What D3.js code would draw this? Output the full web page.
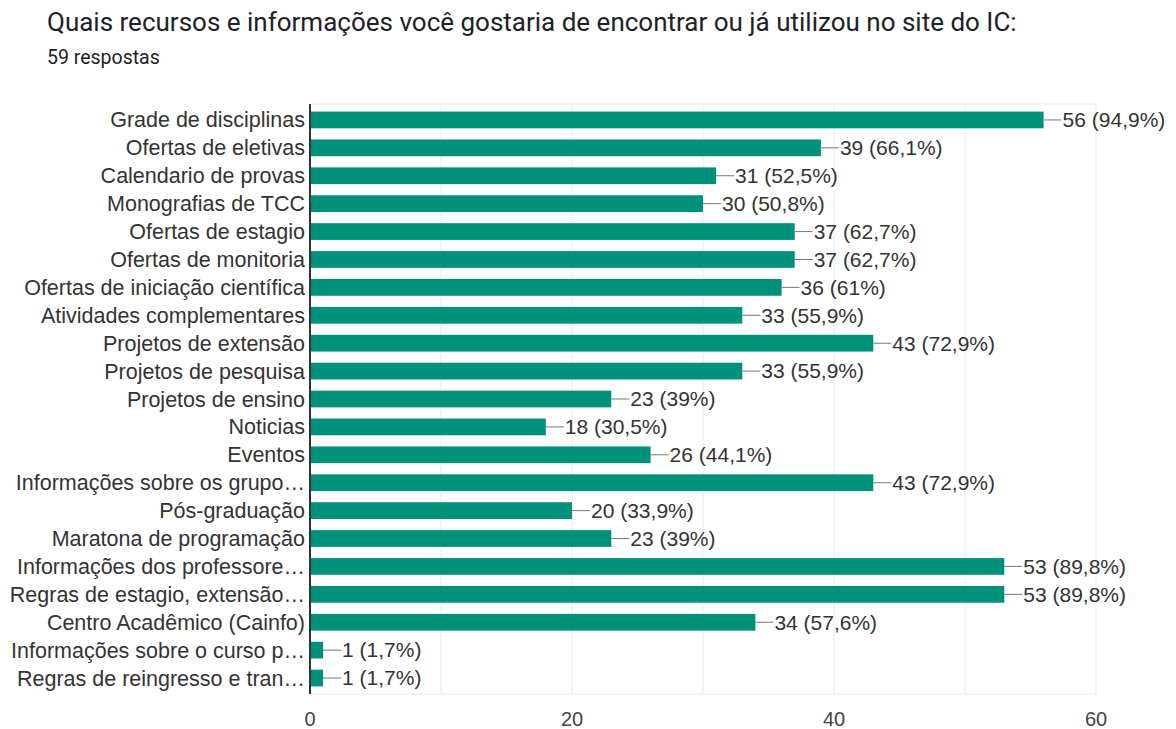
<!DOCTYPE html>
<html>
<head>
<meta charset="utf-8">
<script src="https://cdn.jsdelivr.net/npm/d3@7"></script>
<style>
  body { margin: 0; background: #fff; }
  svg { display: block; }
</style>
</head>
<body>
<svg id="chart" width="1176" height="729"></svg>
<script>
"use strict";

// data
const categories = [
    "Grade de disciplinas", "Ofertas de eletivas", "Calendario de provas", "Monografias de TCC",
    "Ofertas de estagio", "Ofertas de monitoria", "Ofertas de iniciação científica", "Atividades complementares",
    "Projetos de extensão", "Projetos de pesquisa", "Projetos de ensino", "Noticias", "Eventos",
    "Informações sobre os grupo…", "Pós-graduação", "Maratona de programação",
    "Informações dos professore…", "Regras de estagio, extensão…", "Centro Acadêmico (Cainfo)",
    "Informações sobre o curso p…", "Regras de reingresso e tran…"
];
const counts = [56, 39, 31, 30, 37, 37, 36, 33, 43, 33, 23, 18, 26, 43, 20, 23, 53, 53, 34, 1, 1];
const percents = ["94,9%", "66,1%", "52,5%", "50,8%", "62,7%", "62,7%", "61%", "55,9%", "72,9%", "55,9%",
    "39%", "30,5%", "44,1%", "72,9%", "33,9%", "39%", "89,8%", "89,8%", "57,6%", "1,7%", "1,7%"];
const xTicks = [0, 20, 40, 60];
const xGrid = [0, 10, 20, 30, 40, 50, 60];

// layout
const plot = { left: 310, right: 1096, top: 104, bottom: 694 };
const barColor = "#00917a";
const labelFont = "Arial, 'Liberation Sans', sans-serif";

let svg = d3.select("#chart");

// title
svg.append("text")
.attr("x", 47).attr("y", 31)
.attr("font-family", "Roboto, sans-serif")
.attr("font-size", 26)
.attr("fill", "#202124")
.text("Quais recursos e informações você gostaria de encontrar ou já utilizou no site do IC:");

svg.append("text")
.attr("x", 47).attr("y", 64)
.attr("font-family", "Roboto, sans-serif")
.attr("font-size", 19.5)
.attr("fill", "#202124")
.text("59 respostas");

// scales
let scaleX = d3.scaleLinear().domain([0, 60]).range([plot.left, plot.right]);
let scaleY = d3.scaleBand().domain(categories).range([plot.top + 2, plot.bottom - 2]).paddingInner(0.4).paddingOuter(0.2);

// grid
svg.append("g")
.selectAll("line")
.data(xGrid.slice(1))
.enter()
.append("line")
.attr("x1", d => scaleX(d)).attr("x2", d => scaleX(d))
.attr("y1", plot.top).attr("y2", plot.bottom)
.attr("stroke", "#ebebeb").attr("stroke-width", 1);

svg.append("line")
.attr("x1", plot.left).attr("x2", plot.right)
.attr("y1", plot.top).attr("y2", plot.top)
.attr("stroke", "#ebebeb");
svg.append("line")
.attr("x1", plot.left).attr("x2", plot.right)
.attr("y1", plot.bottom).attr("y2", plot.bottom)
.attr("stroke", "#ebebeb");

// x tick labels
svg.append("g")
.selectAll("text")
.data(xTicks)
.enter()
.append("text")
.attr("x", d => scaleX(d))
.attr("y", 726)
.attr("text-anchor", "middle")
.attr("font-family", labelFont)
.attr("font-size", 20)
.attr("fill", "#444")
.text(d => d);

// bars
let bars = svg.append("g").selectAll("g.bar")
.data(categories)
.enter()
.append("g")
.attr("class", "bar");

bars.append("rect")
.attr("x", scaleX(0))
.attr("y", d => scaleY(d))
.attr("width", (d, i) => scaleX(counts[i]) - scaleX(0))
.attr("height", scaleY.bandwidth())
.attr("fill", barColor);

// connectors + value labels
bars.append("line")
.attr("x1", (d, i) => scaleX(counts[i]))
.attr("x2", (d, i) => scaleX(counts[i]) + 18)
.attr("y1", d => scaleY(d) + scaleY.bandwidth() / 2)
.attr("y2", d => scaleY(d) + scaleY.bandwidth() / 2)
.attr("stroke", "#777").attr("stroke-width", 1);

bars.append("text")
.attr("x", (d, i) => scaleX(counts[i]) + 19)
.attr("y", d => scaleY(d) + scaleY.bandwidth() / 2)
.attr("dy", "0.35em")
.attr("font-family", labelFont)
.attr("font-size", 21)
.attr("fill", "#333")
.text((d, i) => `${counts[i]} (${percents[i]})`);

// category labels
bars.append("text")
.attr("x", plot.left - 5)
.attr("y", d => scaleY(d) + scaleY.bandwidth() / 2)
.attr("dy", "0.35em")
.attr("text-anchor", "end")
.attr("font-family", labelFont)
.attr("font-size", 21.5)
.attr("fill", "#333")
.text(d => d);

// y axis line
svg.append("line")
.attr("x1", plot.left).attr("x2", plot.left)
.attr("y1", plot.top).attr("y2", plot.bottom)
.attr("stroke", "#333").attr("stroke-width", 2);
</script>
</body>
</html>
